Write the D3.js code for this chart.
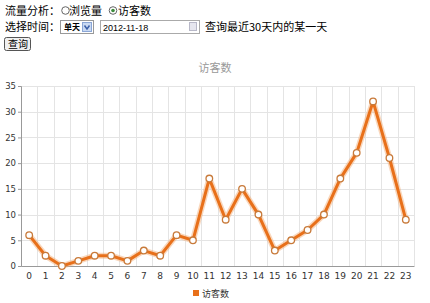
<!DOCTYPE html>
<html>
<head>
<meta charset="utf-8">
<script src="https://cdn.jsdelivr.net/npm/d3@7"></script>
<style>
  body { margin: 0; background: #fff; }
  svg { display: block; font-family: "Noto Sans CJK SC", "DejaVu Sans", sans-serif; }
</style>
</head>
<body>
<svg id="chart" width="430" height="303"></svg>
<script>
// DATA
const hours = d3.range(0, 24).map(String);
const visitors = [6, 2, 0, 1, 2, 2, 1, 3, 2, 6, 5, 17, 9, 15, 10, 3, 5, 7, 10, 17, 22, 32, 21, 9];
const yTicks = [0, 5, 10, 15, 20, 25, 30, 35];
const seriesName = "访客数";

const width = 430, height = 303;
const margin = { top: 86, right: 16, bottom: 37, left: 21 };
const orange = "#e8701a";

const svg = d3.select("svg#chart");

// FORM (drawn as svg)
const form = svg.append("g").attr("font-size", 11).attr("fill", "#000");
form.append("text").attr("x", 5).attr("y", 15).text("流量分析：");
form.append("circle").attr("cx", 65.5).attr("cy", 10.5).attr("r", 3.8)
    .attr("fill", "#fff").attr("stroke", "#666");
form.append("text").attr("x", 69).attr("y", 15).text("浏览量");
form.append("circle").attr("cx", 113).attr("cy", 10.5).attr("r", 3.8)
    .attr("fill", "#fff").attr("stroke", "#666");
form.append("circle").attr("cx", 113).attr("cy", 10.5).attr("r", 1.8).attr("fill", "#3a8a3a");
form.append("text").attr("x", 118).attr("y", 15).text("访客数");

form.append("text").attr("x", 5).attr("y", 31).text("选择时间：");
form.append("rect").attr("x", 60.5).attr("y", 20.5).attr("width", 33).attr("height", 13)
    .attr("fill", "#fff").attr("stroke", "#999");
form.append("text").attr("x", 64).attr("y", 30).attr("font-size", 8).attr("font-weight", "bold").text("单天");
form.append("rect").attr("x", 82.5).attr("y", 22.5).attr("width", 9).attr("height", 9)
    .attr("fill", "#c9d9f2").attr("stroke", "#8aa6d6");
form.append("path").attr("d", "M84.5,25.5 L87,29 L89.5,25.5").attr("fill", "none")
    .attr("stroke", "#3b5fa8").attr("stroke-width", 1.5);
form.append("rect").attr("x", 100.5).attr("y", 20.5).attr("width", 99).attr("height", 13)
    .attr("fill", "#fff").attr("stroke", "#aaa");
form.append("text").attr("x", 103).attr("y", 30.5).attr("font-size", 9)
    .attr("font-family", "Liberation Sans, Arial, sans-serif").text("2012-11-18");
form.append("rect").attr("x", 189.5).attr("y", 22.5).attr("width", 7).attr("height", 8)
    .attr("fill", "#e6e6ee").attr("stroke", "#b8b8c8");
form.append("text").attr("x", 205).attr("y", 31).text("查询最近30天内的某一天");
form.append("rect").attr("x", 4.5).attr("y", 37.5).attr("width", 26).attr("height", 13).attr("rx", 2)
    .attr("fill", "#f0f0f0").attr("stroke", "#555");
form.append("text").attr("x", 8).attr("y", 48).attr("font-size", 10).text("查询");

// SCALES
const xScale = d3.scaleBand()
    .domain(hours)
    .range([margin.left, width - margin.right])
    .padding(0);

const yScale = d3.scaleLinear()
    .domain([0, 35])
    .range([height - margin.bottom, margin.top]);

const cx = d => xScale(d) + xScale.bandwidth() / 2;

// GRID
const grid = svg.append("g").attr("stroke", "#e4e4e4").attr("shape-rendering", "crispEdges");
grid.selectAll("line.h")
    .data(yTicks.slice(1))
    .join("line")
    .attr("class", "h")
    .attr("x1", margin.left).attr("x2", width - margin.right)
    .attr("y1", d => Math.round(yScale(d)) + 0.5).attr("y2", d => Math.round(yScale(d)) + 0.5);
grid.selectAll("line.v")
    .data(hours.slice(1).concat(["end"]))
    .join("line")
    .attr("class", "v")
    .attr("x1", d => Math.round(d === "end" ? width - margin.right : xScale(d)) + 0.5)
    .attr("x2", d => Math.round(d === "end" ? width - margin.right : xScale(d)) + 0.5)
    .attr("y1", margin.top).attr("y2", height - margin.bottom);

// AXIS
const xAxis = g => g.attr("transform", `translate(0, ${height - margin.bottom})`)
    .call(d3.axisBottom(xScale).tickSize(0).tickPadding(7))
    .call(g => g.select(".domain").attr("stroke", "#999"))
    .call(g => g.selectAll("text").attr("font-size", 9).attr("fill", "#333")
        .attr("font-family", "DejaVu Sans, sans-serif"));

const yAxis = g => g.attr("transform", `translate(${margin.left},0)`)
    .call(d3.axisLeft(yScale).tickValues(yTicks).tickSize(3).tickPadding(2))
    .call(g => g.select(".domain").attr("stroke", "#999"))
    .call(g => g.selectAll(".tick line").attr("stroke", "#999"))
    .call(g => g.selectAll("text").attr("font-size", 8.5).attr("fill", "#333")
        .attr("font-family", "DejaVu Sans, sans-serif"));

svg.append("g").call(xAxis);
svg.append("g").call(yAxis);

// TITLE
svg.append("text").attr("x", 215).attr("y", 72).attr("text-anchor", "middle")
    .attr("font-size", 11).attr("fill", "#999").text(seriesName);

// LINE
const line = d3.line()
    .x((d, i) => cx(hours[i]))
    .y(d => yScale(d));

svg.append("path")
    .datum(visitors)
    .attr("fill", "none")
    .attr("stroke", "#f4b07a")
    .attr("stroke-opacity", 0.5)
    .attr("stroke-width", 6)
    .attr("stroke-linejoin", "round")
    .attr("d", line);

svg.append("path")
    .datum(visitors)
    .attr("fill", "none")
    .attr("stroke", orange)
    .attr("stroke-width", 3)
    .attr("stroke-linejoin", "round")
    .attr("d", line);

svg.append("g")
    .selectAll("circle")
    .data(visitors)
    .join("circle")
    .attr("cx", (d, i) => cx(hours[i]))
    .attr("cy", d => yScale(d))
    .attr("r", 3.3)
    .attr("fill", "#fff")
    .attr("stroke", "#c87a3a")
    .attr("stroke-width", 1.3);

// LEGEND
const legend = svg.append("g");
legend.append("rect").attr("x", 193).attr("y", 290).attr("width", 6).attr("height", 6).attr("fill", orange);
legend.append("text").attr("x", 202).attr("y", 297).attr("font-size", 9).attr("fill", "#333").text(seriesName);
</script>
</body>
</html>
